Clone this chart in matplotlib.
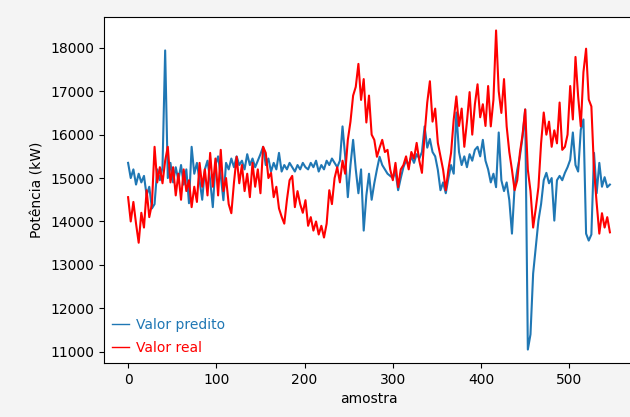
import numpy as np
import matplotlib
matplotlib.use("Agg")
import matplotlib.pyplot as plt

# sample index (every 3rd sample)
amostra = list(range(0, 549, 3))

valor_predito = [
    15350, 15000, 15200, 14850, 15100, 14900, 15050, 14600, 14800, 14300,
    14400, 15200, 14950, 15250, 17940, 15000, 15350, 14900, 15250, 14950,
    15300, 14850, 15200, 14420, 15720, 15100, 15350, 14950, 14500, 15200,
    15400, 14950, 14330, 15300, 15500, 15050, 14490, 15350, 15200, 15450,
    15250, 15500, 15300, 15400, 15200, 15550, 15300, 15450, 15250, 15400,
    15550, 15720, 15300, 15450, 15150, 15350, 15200, 15580, 15150, 15300,
    15200, 15350, 15250, 15150, 15300, 15200, 15350, 15250, 15200, 15350,
    15250, 15400, 15150, 15300, 15200, 15400, 15300, 15450, 15350, 15250,
    15400, 16190, 15500, 14560, 15300, 15880, 15200, 14650, 15200, 13790,
    14600, 15100, 14500, 14880, 15200, 15490, 15300, 15200, 15100, 15050,
    15000, 15150, 14720, 15000, 15250, 15400, 15300, 15500, 15350, 15550,
    15450, 15600, 16190, 15700, 15900, 15600, 15500, 15190, 14720, 14900,
    14650, 15000, 15300, 15100, 16510, 15600, 15300, 15500, 15250, 15550,
    15400, 15650, 15720, 15500, 15880, 15400, 15200, 14900, 15100, 14790,
    16050, 14950, 14700, 14900, 14490, 13720, 14800, 15190, 15500, 15950,
    16580, 11050, 11400, 12800, 13400, 14020, 14400, 14950, 15120, 14880,
    15000, 14020, 14950, 15050, 14950, 15120, 15250, 15420, 16050, 15300,
    15150, 16110, 16350, 13720, 13560, 13700, 15580, 14650, 15350, 14800,
    15020, 14790, 14850,
]

valor_real = [
    14560, 14000, 14450, 13950, 13510, 14200, 13860, 14720, 14100, 14400,
    15720, 14900, 15250, 14880, 15400, 15720, 14900, 15250, 14600, 15100,
    14500, 15200, 14700, 14950, 14330, 14800, 14450, 15350, 14800, 15200,
    14600, 15580, 14800, 15450, 14600, 15650, 14700, 15000, 14400, 14190,
    14900, 15490, 14880, 15300, 14700, 15100, 14560, 15350, 14800, 15200,
    14650, 15720, 15580, 15000, 15120, 14560, 14800, 14300, 14110, 13950,
    14500, 14950, 15050, 14330, 14700, 14400, 14200, 14490, 13900, 14100,
    13790, 14000, 13700, 13900, 13630, 13950, 14720, 14400, 15000, 15250,
    14900, 15400, 15100, 15880, 16300, 16900, 17100, 17630, 16800, 17280,
    16280, 16900, 16000, 15880, 15490, 15700, 15880, 15600, 15650, 15200,
    14950, 15350, 14790, 15200, 15300, 15500, 15200, 15600, 15450, 15810,
    15400, 15120, 16000, 16740, 17230, 16300, 16600, 15810, 15500, 15190,
    14720, 15200, 15580, 16350, 16880, 16200, 16600, 15720, 16300, 16980,
    16000, 16700, 17160, 16400, 16700, 16200, 17120, 16190, 16800, 18400,
    17000, 16500, 17280, 16190, 15600, 15190, 14720, 14950, 15580, 16000,
    16580, 15190, 14700, 13860, 14300, 14790, 15800, 16510, 16000, 16300,
    15720, 16100, 15800, 16740, 15650, 15720, 16000, 17120, 16350, 17790,
    16880, 16190, 17440, 17980, 16810, 16650, 15190, 14420, 13720, 14190,
    13860, 14100, 13750,
]

fig = plt.figure(figsize=(6.30, 4.17), dpi=100, facecolor="#f4f4f4")
ax = fig.add_axes([104/630, 1 - 363/417, 530/630, (363 - 17)/417])
ax.set_facecolor("white")

ax.plot(amostra, valor_predito, color="#1f77b4", lw=1.5, label="Valor predito")
ax.plot(amostra, valor_real, color="red", lw=1.5, label="Valor real")

ax.set_ylim(10740, 18710)
ax.set_xlabel("amostra")
ax.set_ylabel("Potência (kW)")

leg = ax.legend(loc="lower left", frameon=False, handlelength=1.2,
                handletextpad=0.5, labelspacing=0.6, borderaxespad=0.2)
for txt, line in zip(leg.get_texts(), leg.get_lines()):
    txt.set_color(line.get_color())
    line.set_linewidth(1.0)

fig.savefig("out.png", dpi=100, facecolor=fig.get_facecolor())
